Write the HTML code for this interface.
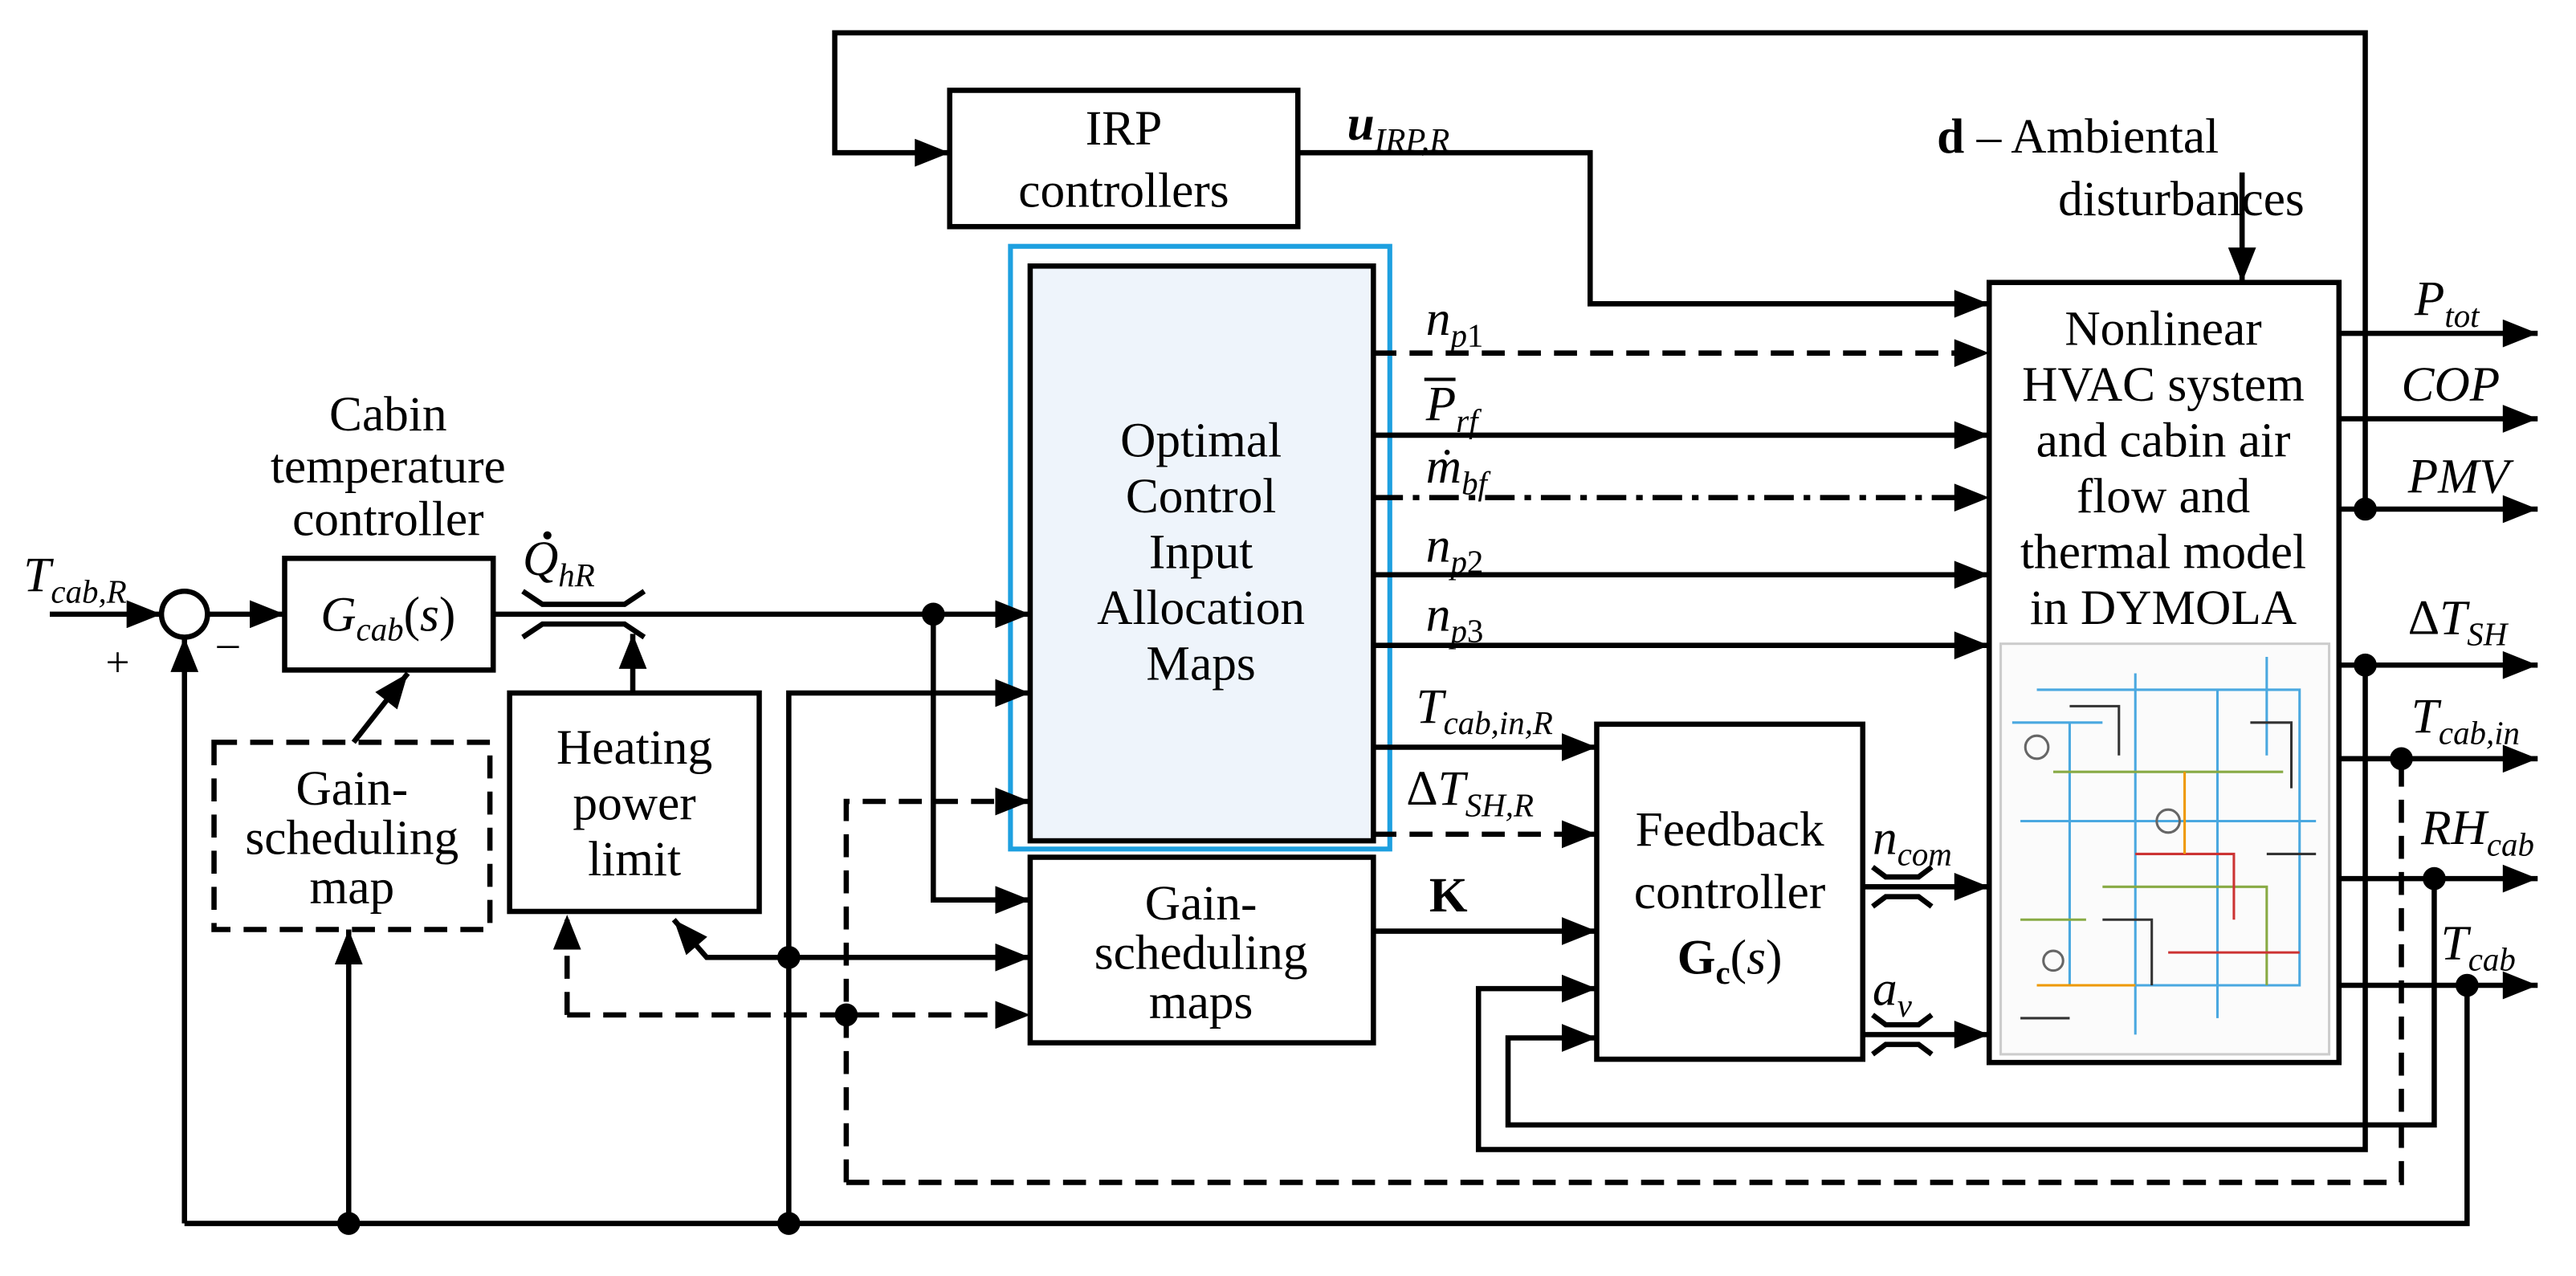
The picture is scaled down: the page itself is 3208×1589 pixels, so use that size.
<!DOCTYPE html>
<html><head><meta charset="utf-8"><style>
html,body{margin:0;padding:0;background:#fff;}
svg{display:block;}
text{font-family:"Liberation Serif",serif;fill:#000;}
</style></head><body>
<svg width="3208" height="1589" viewBox="0 0 1568 777" xmlns="http://www.w3.org/2000/svg">
<defs>
<marker id="b" viewBox="0 0 20 16" markerWidth="22" markerHeight="17" refX="20" refY="8" orient="auto" markerUnits="userSpaceOnUse"><path d="M0,0 L20,8 L0,16 z" fill="#000"/></marker>
</defs>
<g stroke="#000" stroke-width="3.2" fill="none">
<rect x="578" y="55" width="212" height="83"/>
<rect x="615" y="150" width="231" height="367" stroke="#1ea0e0" stroke-width="3"/>
<rect x="627" y="162" width="209" height="350" fill="#eef4fb"/>
<rect x="627" y="522" width="209" height="113"/>
<rect x="1211" y="172" width="213" height="475"/>
<rect x="972" y="441" width="162" height="204"/>
<rect x="173" y="340" width="127" height="68"/>
<rect x="310" y="422" width="152" height="133"/>
<rect x="130" y="452" width="168" height="114" stroke-dasharray="14,8"/>
<circle cx="112" cy="374" r="14"/>
<polyline points="1440,310 1440,20 508,20 508,93 578,93" marker-end="url(#b)"/>
<polyline points="790,93 968,93 968,185 1211,185" marker-end="url(#b)"/>
<line x1="1365" y1="105" x2="1365" y2="172" marker-end="url(#b)"/>
<line x1="836" y1="215" x2="1211" y2="215" stroke-dasharray="14,8" marker-end="url(#b)"/>
<line x1="836" y1="265" x2="1211" y2="265" marker-end="url(#b)"/>
<line x1="836" y1="303" x2="1211" y2="303" stroke-dasharray="18,6,4,6" marker-end="url(#b)"/>
<line x1="836" y1="350" x2="1211" y2="350" marker-end="url(#b)"/>
<line x1="836" y1="393" x2="1211" y2="393" marker-end="url(#b)"/>
<line x1="1424" y1="203" x2="1545" y2="203" marker-end="url(#b)"/>
<line x1="1424" y1="255" x2="1545" y2="255" marker-end="url(#b)"/>
<line x1="1424" y1="310" x2="1545" y2="310" marker-end="url(#b)"/>
<line x1="1424" y1="405" x2="1545" y2="405" marker-end="url(#b)"/>
<line x1="1424" y1="462" x2="1545" y2="462" marker-end="url(#b)"/>
<line x1="1424" y1="535" x2="1545" y2="535" marker-end="url(#b)"/>
<line x1="1424" y1="600" x2="1545" y2="600" marker-end="url(#b)"/>
<line x1="30" y1="374" x2="98" y2="374" marker-end="url(#b)"/>
<line x1="126" y1="374" x2="173" y2="374" marker-end="url(#b)"/>
<line x1="300" y1="374" x2="627" y2="374" marker-end="url(#b)"/>
<polyline points="568,374 568,548 627,548" marker-end="url(#b)"/>
<polyline points="480,745 480,422 627,422" marker-end="url(#b)"/>
<polyline points="515,720 515,488 627,488" stroke-dasharray="14,8" marker-end="url(#b)"/>
<polyline points="515,720 1462,720 1462,462" stroke-dasharray="14,8"/>
<polyline points="112,745 1502,745 1502,600"/>
<line x1="112" y1="745" x2="112" y2="388" marker-end="url(#b)"/>
<line x1="212" y1="745" x2="212" y2="566" marker-end="url(#b)"/>
<line x1="480" y1="583" x2="627" y2="583" marker-end="url(#b)"/>
<polyline points="480,583 430,583 410,560" marker-end="url(#b)"/>
<polyline points="345,618 627,618" stroke-dasharray="14,8" marker-end="url(#b)"/>
<line x1="345" y1="618" x2="345" y2="557" stroke-dasharray="14,8" marker-end="url(#b)"/>
<line x1="385" y1="422" x2="385" y2="386" marker-end="url(#b)"/>
<line x1="215" y1="452" x2="248" y2="410" marker-end="url(#b)"/>
<polyline points="318,360 330,368 380,368 392,360"/>
<polyline points="318,388 330,380 380,380 392,388"/>
<line x1="836" y1="455" x2="972" y2="455" marker-end="url(#b)"/>
<line x1="836" y1="508" x2="972" y2="508" stroke-dasharray="14,8" marker-end="url(#b)"/>
<line x1="836" y1="567" x2="972" y2="567" marker-end="url(#b)"/>
<polyline points="1440,405 1440,700 900,700 900,602 972,602" marker-end="url(#b)"/>
<polyline points="1482,535 1482,685 918,685 918,632 972,632" marker-end="url(#b)"/>
<line x1="1134" y1="540" x2="1211" y2="540" marker-end="url(#b)"/>
<line x1="1134" y1="630" x2="1211" y2="630" marker-end="url(#b)"/>
<polyline points="1140,528 1148,534 1168,534 1176,528"/>
<polyline points="1140,552 1148,546 1168,546 1176,552"/>
<polyline points="1140,618 1148,624 1168,624 1176,618"/>
<polyline points="1140,642 1148,636 1168,636 1176,642"/>
</g>
<g fill="#000">
<circle cx="568" cy="374" r="7"/><circle cx="480" cy="583" r="7"/><circle cx="515" cy="618" r="7"/>
<circle cx="212" cy="745" r="7"/><circle cx="480" cy="745" r="7"/><circle cx="1440" cy="310" r="7"/>
<circle cx="1440" cy="405" r="7"/><circle cx="1462" cy="462" r="7"/><circle cx="1482" cy="535" r="7"/>
<circle cx="1502" cy="600" r="7"/>
<circle cx="333" cy="326" r="2.5"/>
</g>
<g fill="none" stroke-width="1.5">
<rect x="1218" y="392" width="200" height="250" fill="#fbfbfb" stroke="#ccc"/>
<path d="M1240,420 H1400 V600 H1260 V440 M1300,410 V630 M1350,420 V620 M1230,500 H1410 M1225,440 H1280 M1380,400 V460" stroke="#4aa8e0"/>
<path d="M1250,470 H1390 M1280,540 H1380 V600 M1230,560 H1270" stroke="#8a4" />
<path d="M1300,520 H1360 V560 M1320,580 H1400" stroke="#c33"/>
<path d="M1240,600 H1300 M1330,470 V520" stroke="#e90"/>
<path d="M1260,430 H1290 V460 M1370,440 H1395 V480 M1280,560 H1310 V600 M1230,620 H1260 M1380,520 H1410" stroke="#333"/>
<circle cx="1240" cy="455" r="7" stroke="#666"/><circle cx="1320" cy="500" r="7" stroke="#666"/><circle cx="1250" cy="585" r="6" stroke="#666"/>
</g>
<g font-size="30" text-anchor="middle">
<text x="684" y="88">IRP</text><text x="684" y="126">controllers</text>
<text x="731" y="278">Optimal</text><text x="731" y="312">Control</text><text x="731" y="346">Input</text><text x="731" y="380">Allocation</text><text x="731" y="414">Maps</text>
<text x="731" y="560">Gain-</text><text x="731" y="590">scheduling</text><text x="731" y="620">maps</text>
<text x="1317" y="210">Nonlinear</text><text x="1317" y="244">HVAC system</text><text x="1317" y="278">and cabin air</text><text x="1317" y="312">flow and</text><text x="1317" y="346">thermal model</text><text x="1317" y="380">in DYMOLA</text>
<text x="1053" y="515">Feedback</text><text x="1053" y="553">controller</text>
<text x="1053" y="593"><tspan font-weight="bold">G</tspan><tspan font-weight="bold" font-size="20" dy="6">c</tspan><tspan dy="-6">(</tspan><tspan font-style="italic">s</tspan>)</text>
<text x="236" y="262">Cabin</text><text x="236" y="294">temperature</text><text x="236" y="326">controller</text>
<text x="236" y="384"><tspan font-style="italic">G</tspan><tspan font-style="italic" font-size="20" dy="6">cab</tspan><tspan dy="-6">(</tspan><tspan font-style="italic">s</tspan>)</text>
<text x="386" y="465">Heating</text><text x="386" y="499">power</text><text x="386" y="533">limit</text>
<text x="214" y="490">Gain-</text><text x="214" y="520">scheduling</text><text x="214" y="550">map</text>
<text x="1265" y="93"><tspan font-weight="bold">d</tspan> – Ambiental</text><text x="1328" y="131">disturbances</text>
</g>
<g font-size="30" font-style="italic">
<text x="820" y="85" font-weight="bold">u<tspan font-size="20" dy="7" font-weight="normal">IRP,R</tspan></text>
<text x="868" y="204">n<tspan font-size="20" dy="7">p</tspan><tspan font-style="normal" font-size="20">1</tspan></text>
<text x="868" y="256">P<tspan font-size="20" dy="7">rf</tspan></text>
<line x1="867" y1="231" x2="886" y2="231" stroke="#000" stroke-width="2"/>
<text x="868" y="294">ṁ<tspan font-size="20" dy="7">bf</tspan></text>
<text x="868" y="342">n<tspan font-size="20" dy="7">p</tspan><tspan font-style="normal" font-size="20">2</tspan></text>
<text x="868" y="384">n<tspan font-size="20" dy="7">p</tspan><tspan font-style="normal" font-size="20">3</tspan></text>
<text x="862" y="440">T<tspan font-size="20" dy="7">cab,in,R</tspan></text>
<text x="856" y="490"><tspan font-style="normal">Δ</tspan>T<tspan font-size="20" dy="7">SH,R</tspan></text>
<text x="870" y="555" font-style="normal" font-weight="bold">K</text>
<text x="1140" y="520">n<tspan font-size="20" dy="7">com</tspan></text>
<text x="1140" y="612">a<tspan font-size="20" dy="7">v</tspan></text>
<text x="1470" y="192">P<tspan font-size="20" dy="7">tot</tspan></text>
<text x="1462" y="244">COP</text>
<text x="1466" y="300">PMV</text>
<text x="1466" y="386"><tspan font-style="normal">Δ</tspan>T<tspan font-size="20" dy="7">SH</tspan></text>
<text x="1468" y="446">T<tspan font-size="20" dy="7">cab,in</tspan></text>
<text x="1474" y="514">RH<tspan font-size="20" dy="7">cab</tspan></text>
<text x="1486" y="584">T<tspan font-size="20" dy="7">cab</tspan></text>
<text x="14" y="360">T<tspan font-size="20" dy="7">cab,R</tspan></text>
<text x="318" y="350">Q<tspan font-size="20" dy="7">hR</tspan></text>
</g>
<text x="64" y="412" font-size="26">+</text>
<text x="132" y="400" font-size="26">–</text>
</svg>
</body></html>
